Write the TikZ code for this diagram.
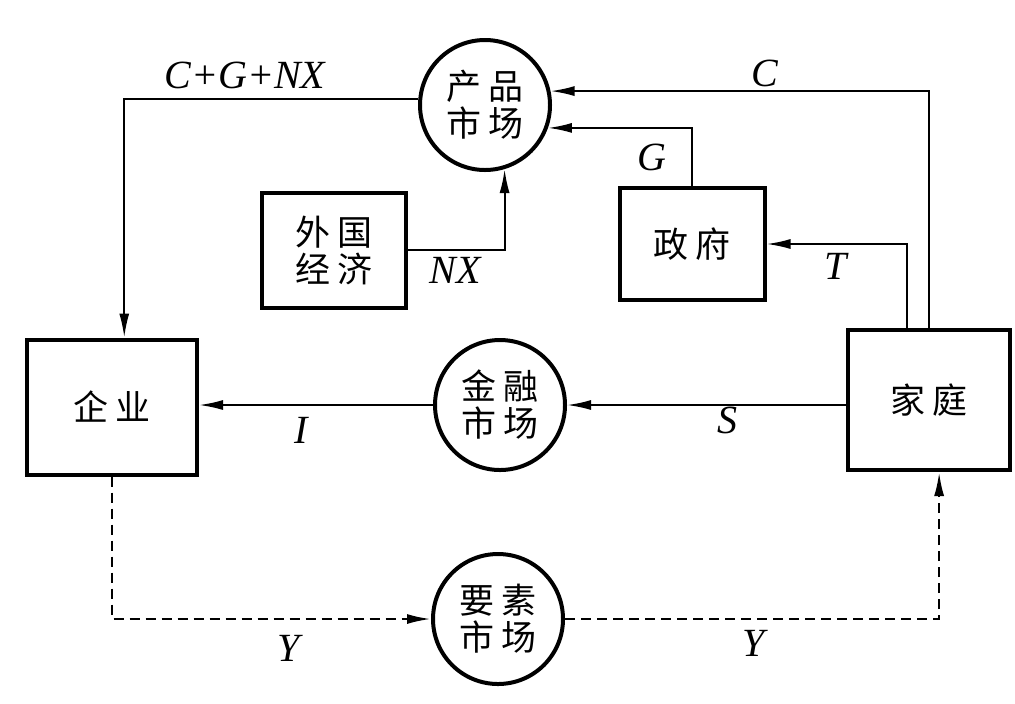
\documentclass[tikz,border=0pt]{standalone}
\usepackage{fontspec}
\setmainfont{Liberation Serif}
\newfontfamily\cjk{Noto Sans CJK SC}
\usetikzlibrary{arrows.meta}
\usetikzlibrary{shapes}
\usetikzlibrary{backgrounds}

\begin{document}
\begin{tikzpicture}[x=0.5pt,y=-0.5pt]
      \tikzstyle{market}=[circle,draw,line width=2pt,minimum size=65pt,inner sep=0pt,align=center,font=\cjk\fontsize{17.5}{18.5}\selectfont]
      \tikzstyle{sector}=[rectangle,draw,line width=2pt,inner sep=0pt,align=center,font=\cjk\fontsize{17.5}{18.5}\selectfont]
      \tikzstyle{flow}=[line width=1pt,-{Latex[length=12pt,width=5pt]}]
      \tikzstyle{factor}=[flow,line width=1.2pt,dash pattern=on 5pt off 3pt]
      \tikzstyle{lbl}=[inner sep=0pt,font=\fontsize{20}{22}\selectfont\itshape]
      \useasboundingbox (0,0) rectangle (1015,703);

      \node[market] (pm)   at (485,105) {产\hspace{4pt}品\\市\hspace{4pt}场};
      \node[market] (fin)  at (500,405) {金\hspace{4pt}融\\市\hspace{4pt}场};
      \node[market] (fac)  at (498,619) {要\hspace{4pt}素\\市\hspace{4pt}场};
      \node[sector,minimum width=72pt,minimum height=57.5pt] (fe)   at (334,250) {外\hspace{4pt}国\\经\hspace{4pt}济};
      \node[sector,minimum width=72.5pt,minimum height=56pt]  (gov)  at (692,244) {政\hspace{4pt}府};
      \node[sector,minimum width=85pt,minimum height=67.5pt]  (firm) at (112,407) {企\hspace{4pt}业};
      \node[sector,minimum width=81pt,minimum height=70pt]    (hh)   at (929,400) {家\hspace{4pt}庭};

      \draw[flow] (pm.175) -| (firm.80);
      \draw[flow] (fe.east) -| (pm.-73);
      \draw[flow] (gov.north) |- (pm.-20);
      \draw[flow] (hh.north) |- (pm.12);
      \draw[flow] (hh.107) |- (gov.east);
      \draw[flow] (fin.west) -- (fin.west -| firm.east);
      \draw[flow] (hh.west |- fin.east) -- (fin.east);
      \draw[factor] (firm.south) |- (fac.west);
      \draw[factor] (fac.east) -| (hh.-82);

      \node[lbl] (lcgnx) at (245,75)  {C+G+NX};
      \node[lbl] (lnx)   at (455,270) {NX};
      \node[lbl] (lg)    at (652,157) {G};
      \node[lbl] (lc)    at (765,73)  {C};
      \node[lbl] (lt)    at (836,266) {T};
      \node[lbl] (li)    at (301,430) {I};
      \node[lbl] (ls)    at (727,420) {S};
      \node[lbl] (ly1)   at (289,648) {Y};
      \node[lbl] (ly2)   at (754,643) {Y};
\end{tikzpicture}
\end{document}
